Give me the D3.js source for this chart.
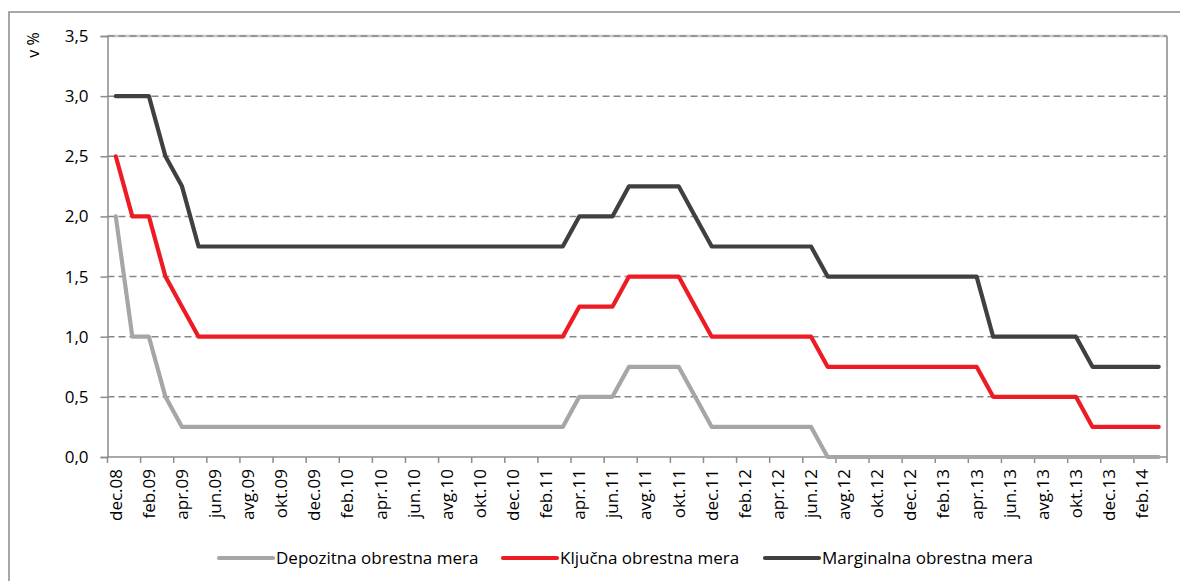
<!DOCTYPE html>
<html>
<head>
<meta charset="utf-8">
<script src="https://cdn.jsdelivr.net/npm/d3@7"></script>
<style>
  body { margin: 0; background: #fff; }
  text { font-family: "Open Sans", sans-serif; fill: #000; }
</style>
</head>
<body>
<div class="chart"></div>
<script>
// months, dec.08 .. mar.14
let months = [
  "dec.08", "jan.09", "feb.09", "mar.09", "apr.09", "maj.09", "jun.09", "jul.09", "avg.09", "sep.09", "okt.09", "nov.09",
  "dec.09", "jan.10", "feb.10", "mar.10", "apr.10", "maj.10", "jun.10", "jul.10", "avg.10", "sep.10", "okt.10", "nov.10",
  "dec.10", "jan.11", "feb.11", "mar.11", "apr.11", "maj.11", "jun.11", "jul.11", "avg.11", "sep.11", "okt.11", "nov.11",
  "dec.11", "jan.12", "feb.12", "mar.12", "apr.12", "maj.12", "jun.12", "jul.12", "avg.12", "sep.12", "okt.12", "nov.12",
  "dec.12", "jan.13", "feb.13", "mar.13", "apr.13", "maj.13", "jun.13", "jul.13", "avg.13", "sep.13", "okt.13", "nov.13",
  "dec.13", "jan.14", "feb.14", "mar.14"
];

let depozitna = [
  2.0, 1.0, 1.0, 0.5, 0.25, 0.25, 0.25, 0.25, 0.25, 0.25, 0.25, 0.25,
  0.25, 0.25, 0.25, 0.25, 0.25, 0.25, 0.25, 0.25, 0.25, 0.25, 0.25, 0.25,
  0.25, 0.25, 0.25, 0.25, 0.5, 0.5, 0.5, 0.75, 0.75, 0.75, 0.75, 0.5,
  0.25, 0.25, 0.25, 0.25, 0.25, 0.25, 0.25, 0, 0, 0, 0, 0,
  0, 0, 0, 0, 0, 0, 0, 0, 0, 0, 0, 0,
  0, 0, 0, 0
];

let kljucna = [
  2.5, 2.0, 2.0, 1.5, 1.25, 1.0, 1.0, 1.0, 1.0, 1.0, 1.0, 1.0,
  1.0, 1.0, 1.0, 1.0, 1.0, 1.0, 1.0, 1.0, 1.0, 1.0, 1.0, 1.0,
  1.0, 1.0, 1.0, 1.0, 1.25, 1.25, 1.25, 1.5, 1.5, 1.5, 1.5, 1.25,
  1.0, 1.0, 1.0, 1.0, 1.0, 1.0, 1.0, 0.75, 0.75, 0.75, 0.75, 0.75,
  0.75, 0.75, 0.75, 0.75, 0.75, 0.5, 0.5, 0.5, 0.5, 0.5, 0.5, 0.25,
  0.25, 0.25, 0.25, 0.25
];

let marginalna = [
  3.0, 3.0, 3.0, 2.5, 2.25, 1.75, 1.75, 1.75, 1.75, 1.75, 1.75, 1.75,
  1.75, 1.75, 1.75, 1.75, 1.75, 1.75, 1.75, 1.75, 1.75, 1.75, 1.75, 1.75,
  1.75, 1.75, 1.75, 1.75, 2.0, 2.0, 2.0, 2.25, 2.25, 2.25, 2.25, 2.0,
  1.75, 1.75, 1.75, 1.75, 1.75, 1.75, 1.75, 1.5, 1.5, 1.5, 1.5, 1.5,
  1.5, 1.5, 1.5, 1.5, 1.5, 1.0, 1.0, 1.0, 1.0, 1.0, 1.0, 0.75,
  0.75, 0.75, 0.75, 0.75
];

let yTicks = [0, 0.5, 1.0, 1.5, 2.0, 2.5, 3.0, 3.5];

let seriesNames = ["Depozitna obrestna mera", "Ključna obrestna mera", "Marginalna obrestna mera"];
let seriesColors = ["#a6a6a6", "#ed1c24", "#404040"];

let width = 1180,
  height = 581;

let svg = d3.select(".chart").append("svg")
  .attr("width", width)
  .attr("height", height);

// outer frame (runs off the right and bottom edge)
svg.append("rect")
  .attr("x", 9)
  .attr("y", 12)
  .attr("width", 1200)
  .attr("height", 600)
  .attr("fill", "none")
  .attr("stroke", "#8c8c8c")
  .attr("stroke-width", 1.5);

let x = d3.scaleBand()
  .domain(months)
  .range([107.5, 1167]);

let y = d3.scaleLinear()
  .domain([0, 3.5])
  .range([457, 36]);

let fmt = d3.formatLocale({ decimal: ",", thousands: ".", grouping: [3], currency: ["", "€"] }).format(".1f");

// plot area border top/right
svg.append("line")
  .attr("x1", x.range()[0]).attr("x2", x.range()[1])
  .attr("y1", y(3.5)).attr("y2", y(3.5))
  .attr("stroke", "#c8c8c8")
  .attr("stroke-width", 2.5);

// gridlines
svg.append("g")
  .selectAll("line")
  .data(yTicks.filter((d) => d > 0))
  .enter().append("line")
  .attr("x1", x.range()[0])
  .attr("x2", x.range()[1])
  .attr("y1", (d) => y(d))
  .attr("y2", (d) => y(d))
  .attr("stroke", "#868686")
  .attr("stroke-width", 1.5)
  .attr("stroke-dasharray", "7,4");

svg.append("line")
  .attr("x1", x.range()[1]).attr("x2", x.range()[1])
  .attr("y1", y(3.5)).attr("y2", 463)
  .attr("stroke", "#a6a6a6")
  .attr("stroke-width", 2);

// y axis
let yAxis = svg.append("g")
  .attr("transform", "translate(" + x.range()[0] + ",0)")
  .call(d3.axisLeft(y).tickValues(yTicks).tickFormat(fmt).tickSize(7).tickPadding(12));

yAxis.select(".domain").attr("stroke", "#8c8c8c").attr("stroke-width", 1.5);
yAxis.selectAll(".tick line").attr("stroke", "#8c8c8c").attr("stroke-width", 1.5);
yAxis.selectAll(".tick text")
  .attr("font-family", "Open Sans")
  .attr("font-size", "17px")
  .attr("fill", "#000");

svg.append("text")
  .attr("transform", "translate(33,45) rotate(-90)")
  .attr("text-anchor", "middle")
  .attr("dy", "0.35em")
  .attr("font-size", "16px")
  .text("v %");

// x axis
svg.append("line")
  .attr("x1", x.range()[0]).attr("x2", x.range()[1])
  .attr("y1", y(0)).attr("y2", y(0))
  .attr("stroke", "#8c8c8c")
  .attr("stroke-width", 1.5);

let labelled = months.filter((d, i) => i % 2 === 0);

svg.append("g")
  .selectAll("line")
  .data(labelled)
  .enter().append("line")
  .attr("x1", (d) => x(d))
  .attr("x2", (d) => x(d))
  .attr("y1", y(0))
  .attr("y2", y(0) + 6)
  .attr("stroke", "#8c8c8c")
  .attr("stroke-width", 1.5);

svg.append("g")
  .selectAll("text")
  .data(labelled)
  .enter().append("text")
  .attr("transform", (d) => "translate(" + (x(d) + x.bandwidth() / 2) + "," + 469 + ") rotate(-90)")
  .attr("text-anchor", "end")
  .attr("dy", "0.35em")
  .attr("font-size", "17px")
  .text((d) => d);

// lines
let series = [depozitna, kljucna, marginalna];

let line = d3.line()
  .x((d, i) => x(months[i]) + x.bandwidth() / 2)
  .y((d) => y(d));

svg.append("g")
  .selectAll("path")
  .data(series)
  .enter().append("path")
  .attr("d", line)
  .attr("fill", "none")
  .attr("stroke", (d, i) => seriesColors[i])
  .attr("stroke-width", 4.2)
  .attr("stroke-linejoin", "round")
  .attr("stroke-linecap", "round");

// legend
let legendX = [219, 503, 765];

let legend = svg.append("g")
  .selectAll("g")
  .data(seriesNames)
  .enter().append("g")
  .attr("transform", (d, i) => "translate(" + legendX[i] + ",558)");

legend.append("line")
  .attr("x1", 0)
  .attr("x2", 54)
  .attr("stroke", (d, i) => seriesColors[i])
  .attr("stroke-width", 4.2)
  .attr("stroke-linecap", "round");

legend.append("text")
  .attr("x", 57)
  .attr("y", 6)
  .attr("font-size", "17px")
  .text((d) => d);
</script>
</body>
</html>
